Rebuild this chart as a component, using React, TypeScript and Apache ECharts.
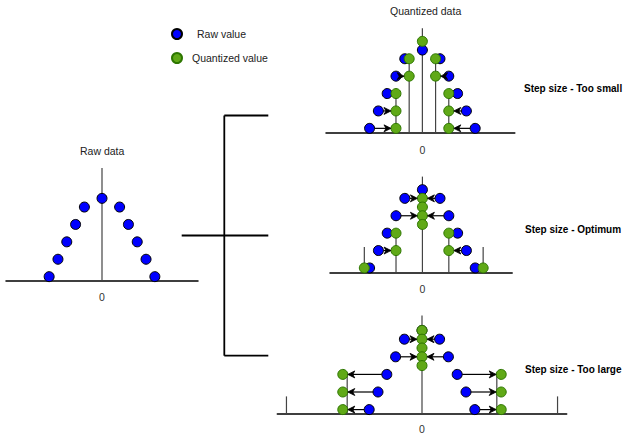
import React, { useEffect, useRef } from "react";
import * as echarts from "echarts";

// ---- data (x in step units, y in level units) ----
const RAW_X = [-6, -5, -4, -3, -2, 0, 2, 3, 4, 5, 6];
const RAW_Y = [0.25, 1.25, 2.25, 3.25, 4.25, 4.75, 4.25, 3.25, 2.25, 1.25, 0.25];

// quantization targets of each raw point (arrow destinations)
const SMALL_TARGET_X = [-3, -3, -3, -1.5, -1.5, 0, 1.5, 1.5, 3, 3, 3];
const OPT_TARGET_X = [-6.6, -3, -3, 0, 0, 0, 0, 0, 3, 3, 6.9];
const LARGE_TARGET_X = [-9, -9, -9, 0, 0, 0, 0, 0, 9, 9, 9];

// quantized value dots
const SMALL_Q_X = [-3, -3, -3, -1.5, -1.5, 0, 1.5, 1.5, 3, 3, 3];
const SMALL_Q_Y = [0.25, 1.25, 2.25, 3.25, 4.25, 5.25, 4.25, 3.25, 2.25, 1.25, 0.25];
const OPT_Q_X = [-6.6, -3, -3, 0, 0, 0, 0, 3, 3, 6.9];
const OPT_Q_Y = [0.25, 1.25, 2.25, 4.25, 3.75, 3.25, 2.75, 2.25, 1.25, 0.25];
const LARGE_Q_X = [-9, -9, -9, 0, 0, 0, 0, 0, 9, 9, 9];
const LARGE_Q_Y = [0.25, 1.25, 2.25, 4.75, 4.25, 3.75, 3.25, 2.75, 2.25, 1.25, 0.25];

// quantization level stems
const RAW_STEM_X = [0];
const RAW_STEM_TOP = [6.5];
const SMALL_STEM_X = [-3, -1.5, 0, 1.5, 3];
const SMALL_STEM_TOP = [2.25, 4.25, 6.0, 4.25, 2.25];
const OPT_STEM_X = [-6.6, -3, 0, 3, 6.9];
const OPT_STEM_TOP = [1.45, 2.25, 5.5, 2.25, 1.45];
const LARGE_STEM_X = [-15.4, -8.5, 0, 8.5, 15.4];
const LARGE_STEM_TOP = [1.0, 2.3, 5.6, 2.3, 1.0];

const ZERO_TICK = [0];

const BLUE = "#0000ff";
const GREEN = "#60a917";
const FONT = "Liberation Sans, Arial, Helvetica, sans-serif";

const zip = (a: number[], b: number[]) => a.map((v, i) => [v, b[i]]);

const stemRender = (params: any, api: any) => {
  const x = api.value(0);
  const t = api.value(1);
  const p0 = api.coord([x, 0]);
  const p1 = api.coord([x, t]);
  return {
    type: "line",
    shape: { x1: p0[0], y1: p0[1], x2: p1[0], y2: p1[1] },
    style: { stroke: "#444", lineWidth: 1.2 },
  };
};

const arrowRender = (params: any, api: any) => {
  const bx = api.value(0);
  const by = api.value(1);
  const gx = api.value(2);
  const pb = api.coord([bx, by]);
  const pg = api.coord([gx, by]);
  const d = pg[0] - pb[0];
  if (Math.abs(d) < 12) return { type: "group", children: [] };
  const dir = d > 0 ? 1 : -1;
  const r = 5;
  const y = pb[1];
  const tip = pg[0] - dir * r;
  const start = pb[0] + dir * r;
  const headLen = 7;
  const back = tip - dir * headLen;
  const notch = tip - dir * (headLen - 2);
  const children: any[] = [];
  if ((notch - start) * dir > 0) {
    children.push({
      type: "line",
      shape: { x1: start, y1: y, x2: notch, y2: y },
      style: { stroke: "#000", lineWidth: 1.2 },
    });
  }
  children.push({
    type: "polygon",
    shape: { points: [[tip, y], [back, y - 3.5], [notch, y], [back, y + 3.5]] },
    style: { fill: "#000", stroke: "#000", lineWidth: 0.8 },
  });
  return { type: "group", children };
};

type Panel = {
  grid: any;
  xMin: number;
  xMax: number;
  labelMargin: number;
  stemX: number[];
  stemTop: number[];
  qx?: number[];
  qy?: number[];
  target?: number[];
};

const PANELS: Panel[] = [
  { grid: { left: 6, top: 159.2, width: 192, height: 121.8 }, xMin: -10.9, xMax: 10.9, labelMargin: 10, stemX: RAW_STEM_X, stemTop: RAW_STEM_TOP },
  { grid: { left: 326, top: 10.9, width: 188.8, height: 121.8 }, xMin: -10.95, xMax: 10.5, labelMargin: 12, stemX: SMALL_STEM_X, stemTop: SMALL_STEM_TOP, qx: SMALL_Q_X, qy: SMALL_Q_Y, target: SMALL_TARGET_X },
  { grid: { left: 330, top: 150.5, width: 182.2, height: 121.8 }, xMin: -10.5, xMax: 10.2, labelMargin: 11, stemX: OPT_STEM_X, stemTop: OPT_STEM_TOP, qx: OPT_Q_X, qy: OPT_Q_Y, target: OPT_TARGET_X },
  { grid: { left: 277.3, top: 290.8, width: 289.4, height: 123.2 }, xMin: -16.44, xMax: 16.44, labelMargin: 9, stemX: LARGE_STEM_X, stemTop: LARGE_STEM_TOP, qx: LARGE_Q_X, qy: LARGE_Q_Y, target: LARGE_TARGET_X },
];

export default function App() {
  const ref = useRef<HTMLDivElement>(null);
  useEffect(() => {
    if (!ref.current) return;
    const chart = echarts.init(ref.current, undefined, { renderer: "svg" });
    const grids: any[] = [];
    const xAxes: any[] = [];
    const yAxes: any[] = [];
    const series: any[] = [];
    PANELS.forEach((p, i) => {
      grids.push({ ...p.grid, containLabel: false });
      xAxes.push({
        type: "value",
        gridIndex: i,
        min: p.xMin,
        max: p.xMax,
        axisLine: { show: true, onZero: false, lineStyle: { color: "#000", width: 1.5 } },
        axisTick: { show: false },
        splitLine: { show: false },
        axisLabel: {
          customValues: ZERO_TICK,
          formatter: (v: number) => (Math.abs(v) < 1e-9 ? "0" : ""),
          fontSize: 10.5,
          color: "#333",
          margin: p.labelMargin,
          fontFamily: FONT,
        },
      });
      yAxes.push({ type: "value", gridIndex: i, min: 0, max: 7, show: false });
      series.push({
        type: "custom",
        xAxisIndex: i,
        yAxisIndex: i,
        z: 1,
        silent: true,
        renderItem: stemRender,
        encode: { x: 0, y: 1 },
        data: zip(p.stemX, p.stemTop),
      });
      series.push({
        type: "scatter",
        name: "Raw value",
        xAxisIndex: i,
        yAxisIndex: i,
        z: 2,
        symbol: "circle",
        symbolSize: 10,
        itemStyle: { color: BLUE, borderColor: "#000", borderWidth: 1, opacity: 1 },
        data: zip(RAW_X, RAW_Y),
      });
      if (p.qx && p.qy && p.target) {
        series.push({
          type: "scatter",
          name: "Quantized value",
          xAxisIndex: i,
          yAxisIndex: i,
          z: 3,
          symbol: "circle",
          symbolSize: 10,
          itemStyle: { color: GREEN, borderColor: "#2d7600", borderWidth: 1, opacity: 1 },
          data: zip(p.qx, p.qy),
        });
        const tgt = p.target;
        series.push({
          type: "custom",
          xAxisIndex: i,
          yAxisIndex: i,
          z: 4,
          silent: true,
          renderItem: arrowRender,
          encode: { x: [0, 2], y: 1 },
          data: RAW_X.map((x, k) => [x, RAW_Y[k], tgt[k]]),
        });
      }
    });

    const lineStyle = { stroke: "#000", lineWidth: 1.8 };
    chart.setOption({
      animation: false,
      backgroundColor: "#ffffff",
      textStyle: { fontFamily: FONT },
      legend: {
        orient: "vertical",
        left: 171,
        top: 28,
        padding: 0,
        itemWidth: 10,
        itemHeight: 10,
        itemGap: 12,
        icon: "circle",
        textStyle: { fontSize: 10.5, color: "#222", fontFamily: FONT },
        data: [
          { name: "Raw value", textStyle: { padding: [0, 0, 0, 10] } },
          { name: "Quantized value", textStyle: { padding: [0, 0, 0, 5] } },
        ],
      },
      grid: grids,
      xAxis: xAxes,
      yAxis: yAxes,
      series,
      graphic: [
        { type: "text", left: 80, top: 145, style: { text: "Raw data", fontSize: 10.5, fill: "#222", fontFamily: FONT } },
        { type: "text", left: 390, top: 5, style: { text: "Quantized data", fontSize: 10.5, fill: "#222", fontFamily: FONT } },
        { type: "text", left: 524, top: 83, style: { text: "Step size - Too small", fontSize: 10, fontWeight: "bold", fill: "#000", fontFamily: FONT } },
        { type: "text", left: 525, top: 224, style: { text: "Step size - Optimum", fontSize: 10, fontWeight: "bold", fill: "#000", fontFamily: FONT } },
        { type: "text", left: 525, top: 364, style: { text: "Step size - Too large", fontSize: 10, fontWeight: "bold", fill: "#000", fontFamily: FONT } },
        { type: "line", shape: { x1: 224.3, y1: 115.5, x2: 224.3, y2: 355.7 }, style: lineStyle },
        { type: "line", shape: { x1: 224.3, y1: 115.5, x2: 268.3, y2: 115.5 }, style: lineStyle },
        { type: "line", shape: { x1: 181.7, y1: 235.5, x2: 268.3, y2: 235.5 }, style: lineStyle },
        { type: "line", shape: { x1: 224.3, y1: 355.7, x2: 268.3, y2: 355.7 }, style: lineStyle },
      ],
    });
    return () => chart.dispose();
  }, []);
  return <div ref={ref} style={{ position: "fixed", left: 0, top: 0, width: 625, height: 438 }} />;
}
